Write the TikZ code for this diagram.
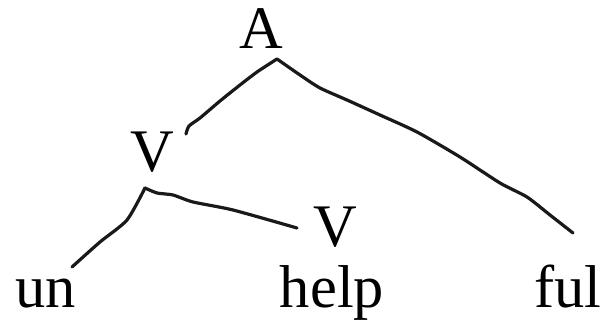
\documentclass[tikz,border=0pt]{standalone}
\usepackage{fontspec}
\setmainfont{Liberation Serif}
\tikzset{
  cat/.style={anchor=base, inner sep=0pt, text=black, font=\fontsize{43}{50}\selectfont},
  morph/.style={cat},
  branch/.style={line width=0.8mm, line cap=round, line join=round, draw=black!90}
}

\begin{document}
\begin{tikzpicture}[x=0.25mm,y=0.25mm]
  \useasboundingbox (0,0) rectangle (608,325);

  % labels
  \node[cat]   (adj)   at (261,276) {A};
  \node[cat]   (verb)  at (152,153) {V};
  \node[cat]   (vstem) at (335,78)  {V};
  \node[morph] (un)    at (46,17)   {un};
  \node[morph] (help)  at (332,17)  {help};
  \node[morph] (ful)   at (568,17)  {ful};

  % branch ends
  \coordinate (apeak)  at (277,266);
  \coordinate (aleft)  at (186,191);
  \coordinate (aright) at (573,92);
  \coordinate (vpeak)  at (145,137);
  \coordinate (vleft)  at (72,58);
  \coordinate (vright) at (297,97);

  \draw[branch] plot[smooth,tension=0.4] coordinates
    {(aleft) (189,199) (200,207) (220,224) (240,240) (257,253) (apeak)};
  \draw[branch] plot[smooth,tension=0.4] coordinates
    {(apeak) (300,250) (320,237) (347,225) (380,210) (417,193) (460,168) (500,142) (527,128) (550,110) (aright)};
  \draw[branch] plot[smooth,tension=0.4] coordinates
    {(vleft) (100,83) (127,105) (vpeak)};
  \draw[branch] plot[smooth,tension=0.4] coordinates
    {(vpeak) (157,132) (173,130) (193,123) (233,115) (vright)};
\end{tikzpicture}
\end{document}
